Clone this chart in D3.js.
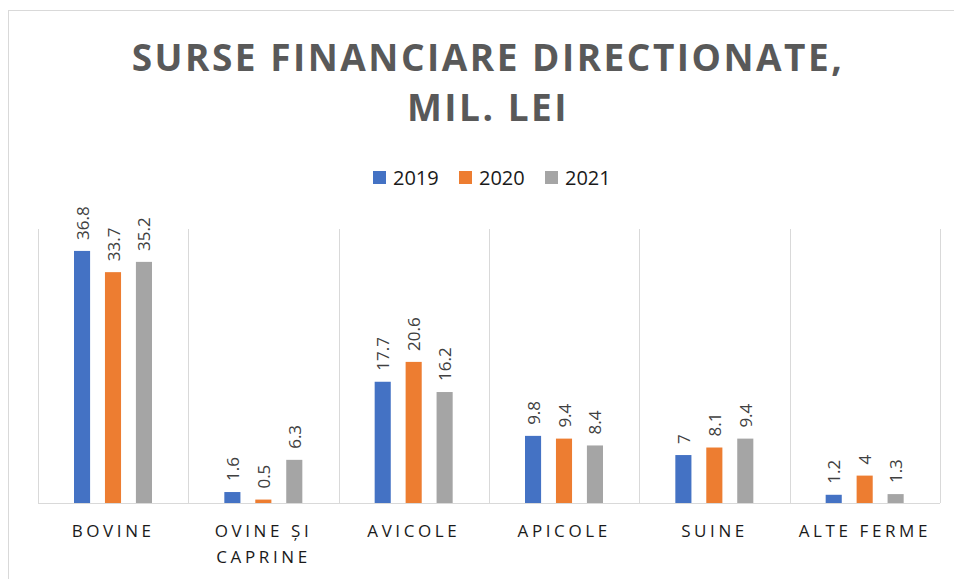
<!DOCTYPE html>
<html lang="ro">
  <head>
    <meta charset="utf-8">
    <title>Surse financiare directionate</title>
    <style type="text/css">
      body { margin: 0; background: #fff; }
      svg { display: block; }
    </style>
  </head>
  <body>
    <script src="https://cdn.jsdelivr.net/npm/d3@7"></script>
    <script type="text/javascript">
    // ===================================
    // DATA
    // ===================================
      var categories = [["BOVINE"], ["OVINE ȘI", "CAPRINE"], ["AVICOLE"], ["APICOLE"], ["SUINE"], ["ALTE FERME"]];
      var years = ["2019", "2020", "2021"];
      var values2019 = [36.8, 1.6, 17.7, 9.8, 7, 1.2];
      var values2020 = [33.7, 0.5, 20.6, 9.4, 8.1, 4];
      var values2021 = [35.2, 6.3, 16.2, 8.4, 9.4, 1.3];
      var colors = ["#4472C4", "#ED7D31", "#A5A5A5"];

      var w = 954, h = 579;
      var plot = {left: 38, right: 940, top: 229, bottom: 503};

      var series = [values2019, values2020, values2021];
      var font = "'Open Sans', sans-serif";

      var svg = d3.select("body").append("svg")
        .attr("width", w)
        .attr("height", h);

      // chart border
      svg.append("rect")
        .attr("x", 8.5).attr("y", 10.5)
        .attr("width", 960).attr("height", 600)
        .attr("fill", "none")
        .attr("stroke", "#D9D9D9");

      // title
      var titleLines = ["SURSE FINANCIARE DIRECTIONATE,", "MIL. LEI"];
      svg.selectAll("text.title")
        .data(titleLines)
        .enter().append("text")
        .attr("class", "title")
        .attr("x", 488).attr("y", function(d, i) { return 71 + i * 50; })
        .attr("text-anchor", "middle")
        .attr("font-family", font)
        .attr("font-weight", "bold")
        .attr("font-size", 37)
        .attr("letter-spacing", 2.5)
        .attr("fill", "#595959")
        .text(function(d) { return d; });

      // scales
      var x0 = d3.scaleBand()
        .domain(d3.range(categories.length))
        .range([plot.left, plot.right]);
      var x1 = d3.scaleBand()
        .domain(d3.range(years.length))
        .range([36, 114])
        .paddingInner(0.48);
      var y = d3.scaleLinear()
        .domain([0, 40])
        .range([plot.bottom, plot.top]);

      // vertical category separators
      var seps = d3.range(categories.length + 1).map(function(i) {
        return plot.left + i * x0.bandwidth();
      });
      svg.selectAll("line.sep")
        .data(seps)
        .enter().append("line")
        .attr("class", "sep")
        .attr("x1", function(d) { return Math.round(d) + 0.5; })
        .attr("x2", function(d) { return Math.round(d) + 0.5; })
        .attr("y1", plot.top).attr("y2", plot.bottom)
        .attr("stroke", "#D9D9D9");

      // bars + value labels
      var groups = svg.selectAll("g.cat")
        .data(categories)
        .enter().append("g")
        .attr("class", "cat")
        .attr("transform", function(d, i) { return "translate(" + x0(i) + ",0)"; });

      groups.each(function(c, ci) {
        var g = d3.select(this);
        series.forEach(function(s, si) {
          var v = s[ci];
          g.append("rect")
            .attr("x", x1(si))
            .attr("y", y(v))
            .attr("width", x1.bandwidth())
            .attr("height", y(0) - y(v))
            .attr("fill", colors[si]);
          var cx = x1(si) + x1.bandwidth() / 2;
          g.append("text")
            .attr("transform", "translate(" + (cx + 6.5) + "," + (y(v) - 11) + ") rotate(-90)")
            .attr("font-family", font)
            .attr("font-size", 17)
            .attr("fill", "#404040")
            .text(v);
        });
      });

      // baseline
      svg.append("line")
        .attr("x1", plot.left).attr("x2", plot.right)
        .attr("y1", plot.bottom + 0.5).attr("y2", plot.bottom + 0.5)
        .attr("stroke", "#D9D9D9");

      // category labels
      groups.each(function(c, ci) {
        var t = d3.select(this).append("text")
          .attr("text-anchor", "middle")
          .attr("font-family", font)
          .attr("font-size", 17)
          .attr("letter-spacing", 3.6)
          .attr("fill", "#1a1a1a");
        c.forEach(function(line, li) {
          t.append("tspan")
            .attr("x", x0.bandwidth() / 2)
            .attr("y", 537 + li * 26)
            .text(line);
        });
      });

      // legend
      var legendX = [373, 459, 545];
      var legend = svg.selectAll("g.leg")
        .data(years)
        .enter().append("g")
        .attr("class", "leg")
        .attr("transform", function(d, i) { return "translate(" + legendX[i] + ",171)"; });
      legend.append("rect")
        .attr("width", 13).attr("height", 13)
        .attr("fill", function(d, i) { return colors[i]; });
      legend.append("text")
        .attr("x", 20).attr("y", 14)
        .attr("font-family", font)
        .attr("font-size", 20)
        .attr("fill", "#1a1a1a")
        .text(function(d) { return d; });
    </script>
  </body>
</html>
